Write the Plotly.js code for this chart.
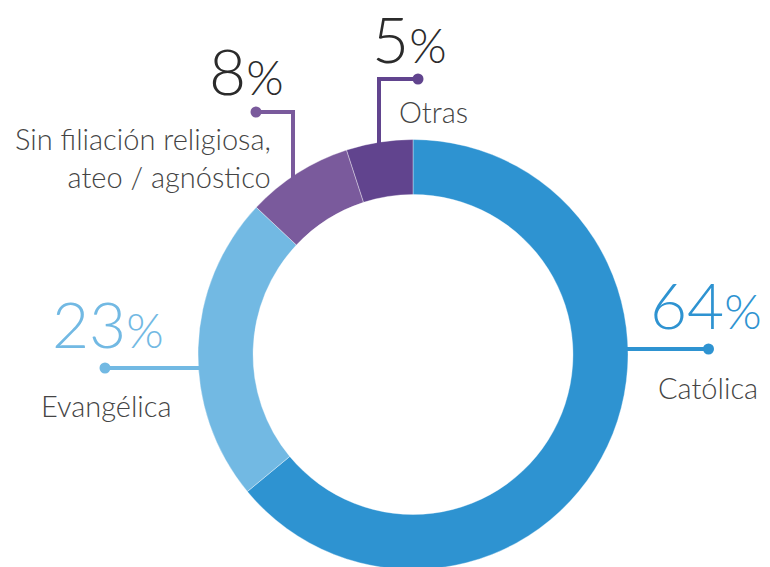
<!DOCTYPE html>
<html><head><meta charset="utf-8">
<script src="https://cdn.plot.ly/plotly-3.0.1.min.js"></script>
<style>html,body{margin:0;padding:0;overflow:hidden;width:770px;height:567px;background:#fff}#c{width:770px;height:600px}</style>
</head><body><div id="c"></div>
<script>
const categories = ["Católica", "Evangélica", "Sin filiación religiosa, ateo / agnóstico", "Otras"];
const values = [64, 23, 8, 5];
const colors = ["#2E93D1", "#72B9E3", "#7A5A9C", "#61448E"];
const labelText = ["Católica", "Evangélica", "Sin filiación religiosa,<br>ateo / agnóstico", "Otras"];

const W = 770, H = 600;
const px = x => x / W, py = y => 1 - y / H;
const FONT = "Lato, 'Open Sans', sans-serif";
const pct = (v, big, small) => `<span style="font-size:${big}px">${v}</span><span style="font-size:${small}px">%</span>`;

const trace = {
  type: "pie", values: values, labels: categories, sort: false, direction: "clockwise", rotation: 0,
  hole: 0.744, textinfo: "none", hoverinfo: "label+percent",
  marker: {colors: colors, line: {color: "rgba(255,255,255,0.6)", width: 0.6}},
  domain: {x: [px(198), px(628)], y: [py(569.5), py(139.5)]}, showlegend: false
};

const lineW = 4;
const shapes = [
  // Católica
  {type: "line", x0: px(626), x1: px(708), y0: py(349), y1: py(349), line: {color: colors[0], width: lineW}},
  {type: "circle", x0: px(703), x1: px(714), y0: py(343.5), y1: py(354.5), fillcolor: colors[0], line: {width: 0}},
  // Evangélica
  {type: "line", x0: px(105), x1: px(201), y0: py(368), y1: py(368), line: {color: colors[1], width: lineW}},
  {type: "circle", x0: px(99.5), x1: px(110.5), y0: py(362.5), y1: py(373.5), fillcolor: colors[1], line: {width: 0}},
  // Sin filiación
  {type: "path", path: `M ${px(256)} ${py(112)} L ${px(293)} ${py(112)} L ${px(293)} ${py(182)}`, line: {color: colors[2], width: lineW}},
  {type: "circle", x0: px(250.5), x1: px(261.5), y0: py(106.5), y1: py(117.5), fillcolor: colors[2], line: {width: 0}},
  // Otras
  {type: "path", path: `M ${px(418)} ${py(79)} L ${px(379)} ${py(79)} L ${px(379)} ${py(147)}`, line: {color: colors[3], width: lineW}},
  {type: "circle", x0: px(412.5), x1: px(423.5), y0: py(73.5), y1: py(84.5), fillcolor: colors[3], line: {width: 0}}
].map(s => Object.assign({xref: "paper", yref: "paper", layer: "above"}, s));

const ann = (x, y, text, size, color, xanchor) => ({
  xref: "paper", yref: "paper", x: px(x), y: py(y), text: text, showarrow: false,
  xanchor: xanchor || "left", yanchor: "middle", align: xanchor === "right" ? "right" : "left",
  font: {family: FONT, size: size, color: color, weight: 300}
});

const annotations = [
  ann(648, 304, pct(values[0], 64, 48), 64, colors[0]),
  ann(656, 387, labelText[0], 29, "#444444"),
  ann(50, 323, pct(values[1], 64, 48), 64, colors[1]),
  ann(39, 405, labelText[1], 29, "#444444"),
  ann(207, 70, pct(values[2], 64, 48), 64, "#2b2b2b"),
  ann(273, 158, labelText[2], 29, "#444444", "right"),
  ann(370, 38, pct(values[3], 64, 48), 64, "#2b2b2b"),
  ann(397, 112, labelText[3], 29, "#444444")
];

Plotly.newPlot("c", [trace], {
  width: W, height: H, margin: {l: 0, r: 0, t: 0, b: 0},
  paper_bgcolor: "#fff", plot_bgcolor: "#fff",
  shapes: shapes, annotations: annotations, font: {family: FONT}
}, {staticPlot: true});
</script></body></html>
